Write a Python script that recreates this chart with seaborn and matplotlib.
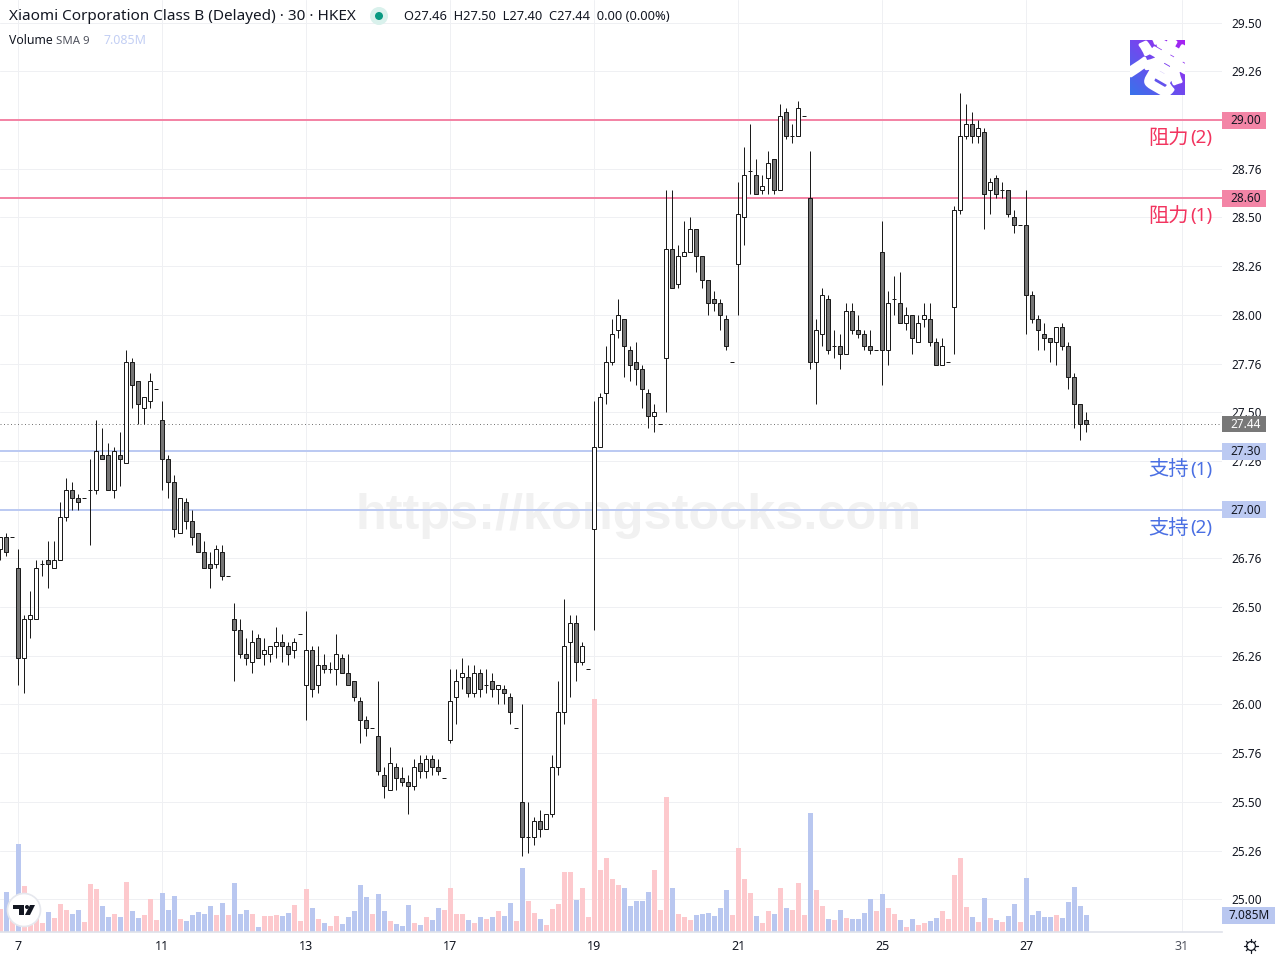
import numpy as np
import pandas as pd
import matplotlib
matplotlib.use("Agg")
import matplotlib.pyplot as plt
import matplotlib.patheffects as pe
import seaborn as sns
from matplotlib.patches import Circle, Polygon, Rectangle
from matplotlib.transforms import blended_transform_factory

# 30 min bars, first bar sits 3 slots left of the "7" label
first_bar = -3
opens = [26.80, 26.86, 26.86,
         26.70, 26.24, 26.44, 26.44, 26.72, 26.74, 26.70, 26.74, 26.96, 27.10, 27.06, 27.06,
         27.10, 27.10, 27.28, 27.28, 27.10, 27.28, 27.24, 27.76, 27.66, 27.52, 27.56, 27.62,
         27.46, 27.26, 27.14, 26.88, 27.04, 26.94, 26.88, 26.78, 26.72, 26.72, 26.78, 26.66,
         26.44, 26.38, 26.26, 26.22, 26.34, 26.26, 26.26, 26.30, 26.32, 26.30, 26.28, 26.36,
         26.10, 26.28, 26.10, 26.20, 26.18, 26.18, 26.24, 26.16, 26.12, 26.02, 25.92, 25.88,
         25.84, 25.64, 25.56, 25.68, 25.62, 25.60, 25.58, 25.70, 25.66, 25.72, 25.68, 25.62,
         25.82, 26.04, 26.14, 26.14, 26.06, 26.16, 26.10, 26.12, 26.08, 26.08, 26.04, 25.88,
         25.50, 25.32, 25.32, 25.40, 25.36, 25.44, 25.68, 25.96, 26.32, 26.42, 26.22, 26.18,
         26.90, 27.32, 27.60, 27.76, 27.92, 27.98, 27.82, 27.76, 27.72, 27.60, 27.48, 27.44,
         27.78, 28.34, 28.16, 28.30, 28.32, 28.44, 28.30, 28.18, 28.08, 28.06, 27.98, 27.76,
         28.26, 28.50, 28.74, 28.72, 28.64, 28.70, 28.80, 28.64, 29.04, 28.92, 28.92, 29.02,
         28.60, 27.76, 27.90, 28.08, 27.84, 27.84, 27.80, 28.02, 27.92, 27.90, 27.84, 27.82,
         28.32, 27.82, 28.08, 28.06, 27.96, 28.00, 27.86, 27.98, 27.98, 27.86, 27.74, 27.76,
         28.04, 28.54, 28.92, 28.98, 28.92, 28.94, 28.64, 28.70, 28.64, 28.64, 28.50, 28.46,
         28.46, 28.10, 27.98, 27.90, 27.88, 27.86, 27.94, 27.84, 27.68, 27.54, 27.46]
highs = [26.86, 26.88, 26.86,
         26.80, 26.46, 26.58, 26.74, 26.74, 26.84, 26.84, 27.04, 27.16, 27.14, 27.08, 27.06,
         27.26, 27.46, 27.42, 27.34, 27.32, 27.40, 27.82, 27.78, 27.66, 27.58, 27.70, 27.62,
         27.56, 27.28, 27.18, 27.06, 27.06, 27.00, 26.88, 26.84, 26.78, 26.82, 26.82, 26.66,
         26.52, 26.44, 26.34, 26.38, 26.36, 26.34, 26.30, 26.40, 26.36, 26.32, 26.34, 26.36,
         26.48, 26.30, 26.30, 26.26, 26.22, 26.36, 26.26, 26.26, 26.12, 26.04, 25.94, 25.88,
         26.12, 25.68, 25.78, 25.70, 25.68, 25.64, 25.72, 25.74, 25.74, 25.74, 25.72, 25.62,
         26.18, 26.18, 26.24, 26.20, 26.20, 26.18, 26.18, 26.16, 26.10, 26.10, 26.06, 25.88,
         26.00, 25.50, 25.42, 25.46, 25.44, 25.74, 26.12, 26.54, 26.46, 26.46, 26.32, 26.18,
         27.56, 27.60, 27.84, 27.98, 28.08, 27.98, 27.84, 27.86, 27.74, 27.62, 27.54, 27.44,
         28.64, 28.64, 28.36, 28.48, 28.50, 28.44, 28.30, 28.18, 28.12, 28.08, 28.00, 27.76,
         28.68, 28.86, 28.98, 28.80, 28.72, 28.84, 28.80, 29.08, 29.06, 28.98, 29.10, 29.02,
         28.84, 27.98, 28.14, 28.10, 27.92, 27.90, 28.06, 28.06, 28.00, 27.92, 27.92, 27.82,
         28.48, 28.12, 28.20, 28.22, 28.04, 28.00, 28.00, 28.06, 28.06, 27.88, 27.88, 27.76,
         28.56, 29.14, 29.08, 29.04, 29.00, 28.96, 28.70, 28.72, 28.68, 28.64, 28.54, 28.46,
         28.64, 28.12, 28.00, 27.96, 27.88, 27.94, 27.96, 27.86, 27.70, 27.54, 27.50]
lows = [26.74, 26.76, 26.86,
        26.10, 26.06, 26.34, 26.44, 26.66, 26.60, 26.70, 26.74, 26.94, 27.00, 27.00, 27.06,
        26.82, 27.08, 27.26, 27.10, 27.06, 27.12, 27.24, 27.52, 27.44, 27.44, 27.52, 27.62,
        27.10, 27.06, 26.86, 26.88, 26.90, 26.82, 26.78, 26.70, 26.60, 26.70, 26.64, 26.66,
        26.12, 26.24, 26.20, 26.16, 26.24, 26.20, 26.22, 26.24, 26.22, 26.20, 26.24, 26.36,
        25.92, 26.04, 26.06, 26.16, 26.16, 26.10, 26.16, 26.10, 26.02, 25.80, 25.84, 25.88,
        25.64, 25.52, 25.56, 25.56, 25.58, 25.44, 25.56, 25.62, 25.62, 25.64, 25.64, 25.62,
        25.80, 25.90, 26.08, 26.04, 26.04, 26.04, 26.06, 26.04, 26.00, 26.00, 25.90, 25.88,
        25.22, 25.24, 25.28, 25.32, 25.36, 25.42, 25.64, 25.90, 26.04, 26.12, 26.20, 26.18,
        26.38, 27.32, 27.54, 27.74, 27.88, 27.68, 27.66, 27.64, 27.52, 27.42, 27.40, 27.44,
        27.50, 28.14, 28.14, 28.30, 28.32, 28.22, 28.14, 28.00, 28.02, 27.92, 27.82, 27.76,
        28.00, 28.36, 28.62, 28.62, 28.62, 28.62, 28.62, 28.64, 28.90, 28.88, 28.92, 29.02,
        27.72, 27.54, 27.84, 27.80, 27.78, 27.72, 27.80, 27.90, 27.88, 27.82, 27.80, 27.82,
        27.64, 27.74, 28.00, 27.96, 27.92, 27.80, 27.86, 27.94, 27.84, 27.74, 27.74, 27.76,
        27.80, 28.52, 28.90, 28.88, 28.88, 28.44, 28.52, 28.60, 28.60, 28.50, 28.42, 28.46,
        27.90, 27.96, 27.82, 27.82, 27.76, 27.74, 27.82, 27.62, 27.42, 27.36, 27.40]
closes = [26.86, 26.78, 26.86,
          26.24, 26.44, 26.46, 26.70, 26.72, 26.72, 26.74, 26.96, 27.10, 27.06, 27.04, 27.06,
          27.10, 27.30, 27.26, 27.10, 27.30, 27.26, 27.76, 27.64, 27.54, 27.58, 27.66, 27.62,
          27.26, 27.14, 26.90, 27.06, 26.94, 26.86, 26.78, 26.70, 26.70, 26.80, 26.66, 26.66,
          26.38, 26.26, 26.24, 26.32, 26.24, 26.28, 26.30, 26.32, 26.30, 26.26, 26.32, 26.36,
          26.28, 26.08, 26.20, 26.18, 26.18, 26.26, 26.16, 26.10, 26.04, 25.92, 25.88, 25.88,
          25.66, 25.58, 25.70, 25.62, 25.60, 25.58, 25.68, 25.66, 25.72, 25.68, 25.66, 25.62,
          26.02, 26.12, 26.16, 26.06, 26.16, 26.08, 26.10, 26.08, 26.10, 26.06, 25.96, 25.88,
          25.32, 25.32, 25.40, 25.36, 25.44, 25.68, 25.96, 26.30, 26.42, 26.22, 26.30, 26.18,
          27.32, 27.58, 27.76, 27.90, 28.00, 27.84, 27.74, 27.72, 27.62, 27.48, 27.50, 27.44,
          28.34, 28.14, 28.30, 28.32, 28.44, 28.30, 28.18, 28.06, 28.06, 28.00, 27.84, 27.76,
          28.52, 28.72, 28.74, 28.62, 28.66, 28.78, 28.64, 29.02, 28.92, 28.92, 29.06, 29.02,
          27.76, 27.92, 28.10, 27.82, 27.84, 27.80, 28.02, 27.92, 27.90, 27.84, 27.82, 27.82,
          27.82, 28.06, 28.08, 27.96, 28.00, 27.88, 27.96, 28.00, 27.86, 27.74, 27.84, 27.76,
          28.54, 28.92, 28.98, 28.92, 28.96, 28.62, 28.68, 28.62, 28.64, 28.52, 28.46, 28.46,
          28.10, 27.98, 27.92, 27.88, 27.86, 27.94, 27.84, 27.68, 27.54, 27.44, 27.44]
volumes = [9.6, 16.7, 8.3,
           36.7, 19.2, 7.0, 7.1, 3.8, 8.3, 5.8, 11.7, 9.2, 7.5, 9.2, 4.2,
           20.0, 17.9, 10.8, 6.3, 7.5, 6.3, 20.9, 8.8, 5.8, 7.1, 13.8, 5.0,
           16.3, 9.2, 15.0, 5.4, 4.6, 7.1, 8.3, 7.5, 10.8, 7.1, 12.1, 7.1,
           20.4, 7.5, 9.2, 7.5, 2.1, 6.7, 6.7, 7.1, 6.7, 7.9, 11.3, 4.6,
           17.9, 10.0, 5.4, 3.8, 2.5, 6.7, 3.3, 6.3, 8.8, 19.6, 14.6, 7.5,
           15.8, 8.8, 4.6, 3.3, 2.5, 11.3, 3.8, 2.9, 6.3, 5.0, 10.0, 9.2,
           18.3, 7.5, 7.5, 5.0, 3.8, 6.3, 5.4, 6.3, 8.8, 6.7, 12.1, 4.6,
           26.7, 12.9, 7.9, 5.4, 2.9, 9.6, 11.7, 25.0, 25.0, 13.3, 18.3, 6.3,
           97.2, 25.9, 30.9, 22.1, 19.6, 18.3, 10.8, 12.9, 12.9, 16.7, 25.9, 9.2,
           56.3, 18.3, 7.5, 6.3, 5.0, 7.1, 7.5, 7.9, 6.7, 10.0, 17.5, 7.1,
           35.0, 22.1, 16.3, 6.7, 3.8, 8.8, 7.5, 18.3, 10.0, 9.2, 20.4, 7.1,
           49.6, 17.5, 10.8, 5.4, 5.0, 9.2, 5.8, 5.4, 5.4, 7.9, 13.8, 8.8,
           15.8, 10.0, 7.5, 5.0, 2.1, 5.4, 2.9, 3.8, 4.6, 5.8, 8.8, 5.4,
           23.8, 30.9, 10.4, 6.3, 4.2, 14.2, 5.8, 5.0, 4.2, 6.7, 11.7, 4.2,
           22.5, 7.1, 8.8, 6.3, 6.3, 7.1, 5.8, 12.5, 18.8, 10.8, 7.1]

price_ticks = [29.5, 29.25, 29.0, 28.75, 28.5, 28.25, 28.0, 27.75, 27.5, 27.25, 27.0,
               26.75, 26.5, 26.25, 26.0, 25.75, 25.5, 25.25, 25.0]
# 29.00 and 27.00 are carried by the level badges
price_labels = ['29.50', '29.26', '', '28.76', '28.50', '28.26', '28.00', '27.76', '27.50', '27.26',
                '', '26.76', '26.50', '26.26', '26.00', '25.76', '25.50', '25.25', '25.00']
price_labels[17] = '25.26'
day_ticks = [0, 24, 48, 72, 96, 120, 144, 168, 194]
day_labels = ['7', '11', '13', '17', '19', '21', '25', '27', '31']
resistance_levels = [29.00, 28.60]
resistance_labels = ['29.00', '28.60']
support_levels = [27.30, 27.00]
support_labels = ['27.30', '27.00']
last_price = 27.44

PINK_LINE = '#f385a6'
BLUE_LINE = '#bccaf2'
UP_VOL = '#fdc9cd'
DOWN_VOL = '#b9c7f0'
DARK = '#131722'
CANDLE = '#1c1c1c'
GRID = '#eff0f3'
ONE_PX = 0.72  # one pixel at 100 dpi, in points

price_low, price_high = 24.832, 29.616

sns.set_theme(style="white")
plt.rcParams['font.family'] = ['Noto Sans', 'Noto Sans CJK SC', 'DejaVu Sans']

df = pd.DataFrame({'open': opens, 'high': highs, 'low': lows, 'close': closes, 'volume': volumes})
df['bar'] = np.arange(len(df)) + first_bar
df['up'] = df['close'] >= df['open']

fig = plt.figure(figsize=(12.8, 9.6), dpi=100, facecolor='white')
ax_box = [0, 1 - 932 / 960, 1222 / 1280, 932 / 960]
ax_vol = fig.add_axes(ax_box)
ax = fig.add_axes(ax_box)
ax_vol.set_zorder(1)
ax.set_zorder(2)
ax.patch.set_visible(False)

# --- Volume ---
sns.barplot(data=df, x='bar', y='volume', hue='up', palette={True: UP_VOL, False: DOWN_VOL},
            native_scale=True, dodge=False, width=0.83, saturation=1, linewidth=0,
            legend=False, ax=ax_vol)
# half pixel offset keeps the 5 px volume bars even after snapping
ax_vol.set_xlim((0 - 18.5) / 6, (1222 - 18.5) / 6)
ax_vol.set_ylim(0, 388.4)
ax_vol.set_xlabel('')
ax_vol.set_ylabel('')
ax_vol.set_yticks([])
ax_vol.set_xticks(day_ticks)
ax_vol.tick_params(labelbottom=False, length=0)
ax_vol.set_facecolor('white')
ax_vol.grid(True, axis='x', color=GRID, lw=ONE_PX)
for t in price_ticks:
    ax_vol.axhline((t - price_low) / (price_high - price_low) * 388.4, color=GRID, lw=ONE_PX, zorder=0)
ax_vol.set_axisbelow(True)
for s in ax_vol.spines.values():
    s.set_visible(False)

# --- Candles ---
ax.vlines(df['bar'], df['low'], df['high'], color=CANDLE, lw=ONE_PX, zorder=3)
body_colors = ['white' if u else '#757575' for u in df['up']]
body_low = df[['open', 'close']].min(axis=1)
body_h = (df['open'] - df['close']).abs()
ax.bar(df['bar'], body_h, bottom=body_low, width=0.73, color=body_colors, edgecolor=CANDLE,
       linewidth=ONE_PX, zorder=4)

ax.set_xlim((0 - 18) / 6, (1222 - 18) / 6)
ax.set_ylim(price_low, price_high)
ax.set_xlabel('')
ax.yaxis.tick_right()
ax.set_yticks(price_ticks)
ax.set_yticklabels(price_labels, fontsize=8.5, color=DARK)
ax.tick_params(axis='y', length=0, pad=6.5)
ax.set_xticks(day_ticks)
ax.set_xticklabels(day_labels, fontsize=9, color=DARK, fontweight='medium')
ax.get_xticklabels()[-1].set_color('#50535e')
ax.get_xticklabels()[-1].set_fontweight('normal')
ax.tick_params(axis='x', length=0, pad=6)
for s in ['top', 'left', 'right']:
    ax.spines[s].set_visible(False)
ax.spines['bottom'].set_color('#dfe2ea')
ax.spines['bottom'].set_linewidth(1.2)

# --- Level lines ---
for level in resistance_levels:
    ax.axhline(level, color=PINK_LINE, lw=1.44, zorder=2)
for level in support_levels:
    ax.axhline(level, color=BLUE_LINE, lw=1.44, zorder=2)
ax.axhline(last_price, color='#777777', lw=ONE_PX, ls=(0, (1, 2.5)), zorder=2)

fig.text(638.5 / 1280, 1 - 516 / 960, 'https://kongstocks.com', family='Liberation Sans', weight='bold',
         fontsize=36.3, color='#f1f1f1', ha='center', va='center', zorder=1.5)

# --- Overlay in pixels for header, badges and logos ---
over = fig.add_axes([0, 0, 1, 1], zorder=5)
over.set_xlim(0, 1280)
over.set_ylim(960, 0)
over.axis('off')
over.patch.set_visible(False)
badge_tr = blended_transform_factory(over.transData, ax.transData)


def badge(price, text, fill, color=DARK):
    over.add_patch(Rectangle((1222, price - 0.044), 44, 0.086, transform=badge_tr, facecolor=fill, lw=0))
    over.text(1246, price - 0.004, text, transform=badge_tr, ha='center', va='center', fontsize=8.5, color=color)


for level, lab in zip(resistance_levels, resistance_labels):
    badge(level, lab, PINK_LINE)
for level, lab in zip(support_levels, support_labels):
    badge(level, lab, BLUE_LINE)
badge(last_price, '27.44', '#787878', 'white')

over.add_patch(Rectangle((1222, 907), 53, 16.5, facecolor=DOWN_VOL, lw=0))
over.text(1249, 915.5, '7.085M', ha='center', va='center', fontsize=8.5, color=DARK)

for y, txt, num, col in [(137, '阻力', '(2)', '#f2345f'), (215, '阻力', '(1)', '#f2345f'),
                         (468, '支持', '(1)', '#4a6fe3'), (527, '支持', '(2)', '#4a6fe3')]:
    over.text(1189, y + 1.5, txt, ha='right', va='center', fontsize=14.6, color=col, family='Noto Sans CJK SC')
    over.text(1212.5, y + 1.5, num, ha='right', va='center', fontsize=13.5, color=col, weight='semibold')

over.text(9, 17, 'Xiaomi Corporation Class B (Delayed) · 30 · HKEX', ha='left', va='center', fontsize=11, color=DARK)
over.add_patch(Circle((379, 16), 9, facecolor='#d9f1ec', lw=0))
over.add_patch(Circle((379, 16), 4, facecolor='#089981', lw=0))
over.text(404, 17, 'O27.46  H27.50  L27.40  C27.44  0.00 (0.00%)', ha='left', va='center', fontsize=9.25, color=DARK)
over.text(9, 41, 'Volume', ha='left', va='center', fontsize=8.8, color=DARK)
over.text(56, 41, 'SMA 9', ha='left', va='center', fontsize=8.2, color='#50535e')
over.text(103, 41, '7.085M', ha='left', va='center', fontsize=8.9, color='#c3cff4')

# TradingView badge
over.add_patch(Circle((24, 910), 16.5, facecolor='white', edgecolor='#e6e8ee', lw=1.2))
over.add_patch(Polygon([(13, 905), (24, 905), (24, 915), (19, 915), (19, 909), (13, 909)], facecolor=DARK, lw=0))
over.add_patch(Circle((27, 907), 2, facecolor=DARK, lw=0))
over.add_patch(Polygon([(30, 905), (35, 905), (30, 915), (25, 915)], facecolor=DARK, lw=0))

# gear icon
over.add_patch(Circle((1251, 946), 4.4, facecolor='none', edgecolor=DARK, lw=0.9))
for a in np.arange(0, 2 * np.pi, np.pi / 4):
    over.plot([1251 + 4.4 * np.cos(a), 1251 + 6.6 * np.cos(a)], [946 + 4.4 * np.sin(a), 946 + 6.6 * np.sin(a)],
              color=DARK, lw=0.9)

# corner logo
logo = fig.add_axes([1130 / 1280, 1 - 95 / 960, 55 / 1280, 55 / 960], zorder=6)
gx, gy = np.meshgrid(np.linspace(0, 1, 55), np.linspace(0, 1, 55))
mix = ((1 - gx) + gy) / 2
start = np.array([0.66, 0.13, 0.95])
stop = np.array([0.22, 0.45, 0.92])
grad = start[None, None, :] * (1 - mix[..., None]) + stop[None, None, :] * mix[..., None]
logo.imshow(grad, extent=(0, 55, 55, 0), aspect='auto')
logo_txt = logo.text(27.5, 27.5, '港', color='white', fontsize=40, weight='bold', family='Noto Sans CJK SC',
                     rotation=-30, rotation_mode='anchor', ha='center', va='center', clip_on=True)
logo_txt.set_path_effects([pe.withStroke(linewidth=2.5, foreground='white')])
logo.set_xlim(0, 55)
logo.set_ylim(55, 0)
logo.axis('off')

fig.savefig('out.png', dpi=100)
plt.close('all')
